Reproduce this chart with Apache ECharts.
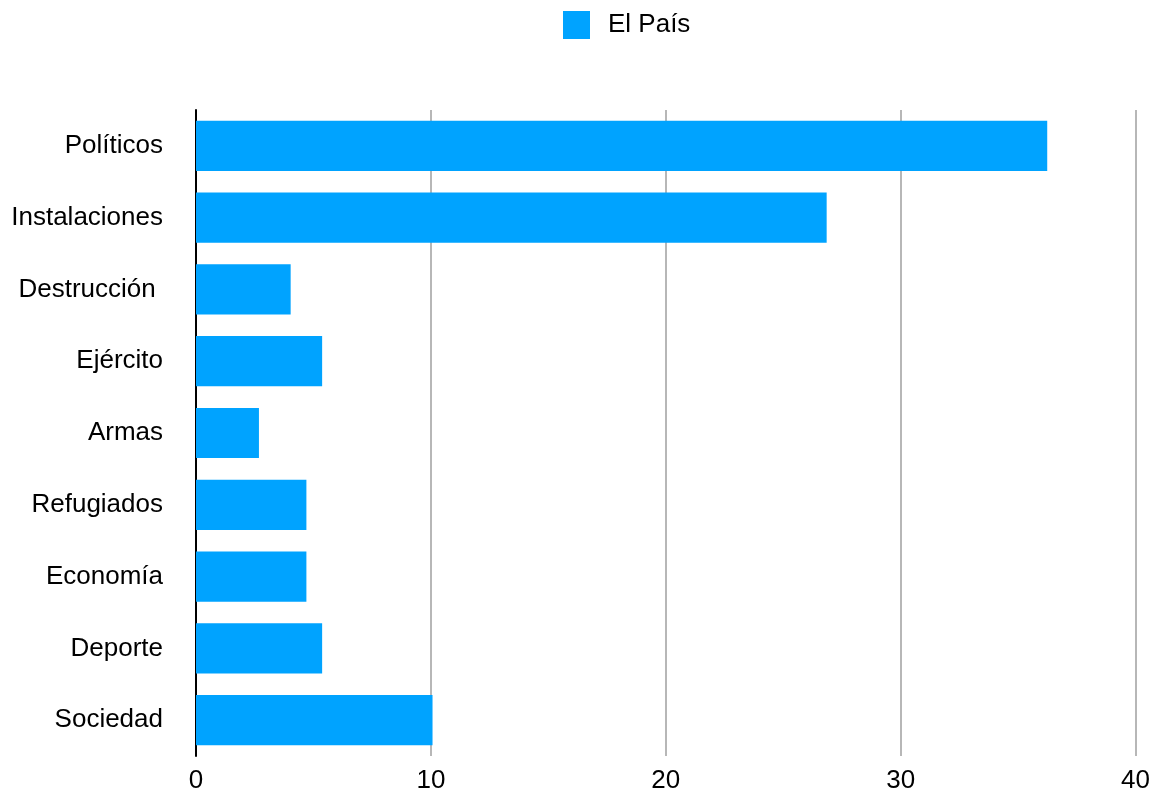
<!DOCTYPE html>
<html>
<head>
<meta charset="utf-8">
<script src="https://cdn.jsdelivr.net/npm/echarts@6/dist/echarts.min.js"></script>
<style>
html,body{margin:0;padding:0;background:#fff;overflow:hidden;}
#chart{width:1153px;height:796px;}
</style>
</head>
<body>
<div id="chart"></div>
<script>
const categories = ['Políticos', 'Instalaciones', 'Destrucción ', 'Ejército', 'Armas', 'Refugiados', 'Economía', 'Deporte', 'Sociedad'];
const seriesName = 'El País';
const values = [36.24, 26.85, 4.03, 5.37, 2.68, 4.70, 4.70, 5.37, 10.07];
const xTicks = [0, 10, 20, 30, 40];

const chart = echarts.init(document.getElementById('chart'), null, {renderer: 'canvas'});
const font = 'Liberation Sans, Arial, sans-serif';
chart.setOption({
  animation: false,
  backgroundColor: '#ffffff',
  legend: {
    data: [seriesName],
    left: 563,
    top: 11,
    padding: 0,
    itemWidth: 27,
    itemHeight: 28,
    icon: 'rect',
    textStyle: {fontFamily: font, fontSize: 26, color: '#000', padding: [0, 0, 0, 13]}
  },
  grid: {left: 196, right: 13, top: 110, bottom: 40, containLabel: false},
  xAxis: {
    type: 'value',
    min: xTicks[0],
    max: xTicks[xTicks.length - 1],
    interval: 10,
    axisLine: {show: false},
    axisTick: {show: false},
    splitLine: {show: true, lineStyle: {color: '#b7b7b7', width: 2}},
    axisLabel: {fontFamily: font, fontSize: 26, color: '#000', margin: 12}
  },
  yAxis: {
    type: 'category',
    data: categories,
    inverse: true,
    axisLine: {show: true, lineStyle: {color: '#000', width: 2}},
    axisTick: {show: false},
    splitLine: {show: false},
    axisLabel: {fontFamily: font, fontSize: 26, color: '#000', margin: 33}
  },
  series: [{
    name: seriesName,
    type: 'bar',
    data: values,
    barCategoryGap: '30%',
    itemStyle: {color: '#00a3ff'}
  }]
});
</script>
</body>
</html>
